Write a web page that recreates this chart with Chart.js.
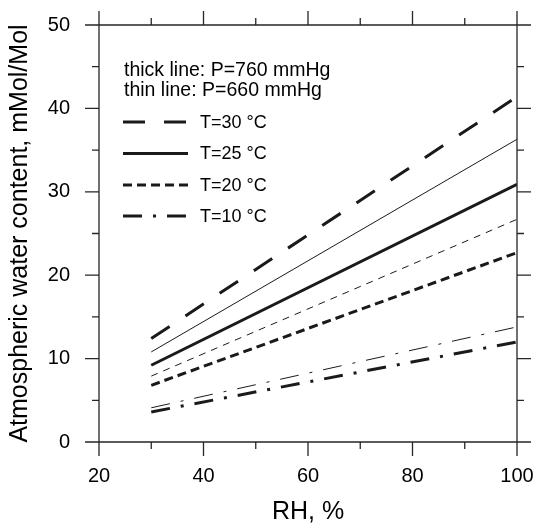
<!DOCTYPE html>
<html>
<head>
<meta charset="utf-8">
<script src="https://cdn.jsdelivr.net/npm/chart.js@4.4.1/dist/chart.umd.min.js"></script>
<style>
  html, body { margin: 0; padding: 0; background: #fff; }
  #wrap { width: 539px; height: 527px; }
</style>
</head>
<body>
<div id="wrap"><canvas id="chart" width="539" height="527"></canvas></div>
<script>
(function () {
  // RH (%) at the two ends of every line
  var RH = [30, 100];

  // thick lines, P=760 mmHg
  var THICK_30 = [12.4, 41.4];
  var THICK_25 = [9.2, 30.9];
  var THICK_20 = [6.8, 22.7];
  var THICK_10 = [3.6, 12.0];

  // thin lines, P=660 mmHg
  var THIN_25 = [10.8, 36.3];
  var THIN_20 = [7.9, 26.7];
  var THIN_10 = [4.1, 13.8];

  var X_MAJOR = [20, 40, 60, 80, 100];
  var X_MINOR = [30, 50, 70, 90];
  var Y_MAJOR = [0, 10, 20, 30, 40, 50];
  var Y_MINOR = [5, 15, 25, 35, 45];

  var HEADER_LINES = ['thick line: P=760 mmHg', 'thin line: P=660 mmHg'];
  var TEMP_LABELS = ['T=30 \u00B0C', 'T=25 \u00B0C', 'T=20 \u00B0C', 'T=10 \u00B0C'];

  var INK = '#1a1a1a';
  var FRAME = '#262626';
  var FONT = "'Liberation Sans', Arial, Helvetica, sans-serif";

  var DASH_30 = [22, 19];
  var DASH_25 = [];
  var DASH_20 = [9, 5];
  var DASH_20_THIN = [7, 6];
  var DASH_10 = [19, 11, 3, 11];

  // wanted plot box inside the 539x527 canvas
  var BOX = { left: 99, right: 517, top: 25, bottom: 442 };

  Chart.defaults.font.family = FONT;
  Chart.defaults.color = '#000';

  function points(values) {
    return RH.map(function (x, i) {
      return { x: x, y: values[i] };
    });
  }

  function line(label, values, width, dash) {
    return {
      label: label,
      data: points(values),
      borderColor: INK,
      borderWidth: width,
      borderDash: dash,
      borderCapStyle: 'butt',
      pointRadius: 0,
      pointHoverRadius: 0,
      fill: false,
      tension: 0
    };
  }

  // thick datasets first so the legend can pick them by index
  var datasets = [
    line(TEMP_LABELS[0], THICK_30, 3, DASH_30),
    line(TEMP_LABELS[1], THICK_25, 3, DASH_25),
    line(TEMP_LABELS[2], THICK_20, 3, DASH_20),
    line(TEMP_LABELS[3], THICK_10, 3, DASH_10),
    line('thin 25', THIN_25, 1, DASH_25),
    line('thin 20', THIN_20, 1, DASH_20_THIN),
    line('thin 10', THIN_10, 1, DASH_10)
  ];

  // the scales would otherwise push the plot box in to make room for edge labels
  function noEdgePadding(scale) {
    scale.paddingLeft = 0;
    scale.paddingRight = 0;
    scale.paddingTop = 0;
    scale.paddingBottom = 0;
  }

  // box frame with outward ticks on all four sides
  var framePlugin = {
    id: 'frame',
    afterDraw: function (chart) {
      var ctx = chart.ctx;
      var a = chart.chartArea;
      var xs = chart.scales.x;
      var ys = chart.scales.y;
      var major = 14;
      var minor = 7;

      ctx.save();
      ctx.strokeStyle = FRAME;
      ctx.lineWidth = 1.3;
      ctx.setLineDash([]);
      ctx.beginPath();
      ctx.moveTo(a.left - major, a.top); ctx.lineTo(a.right + major, a.top);
      ctx.moveTo(a.left - major, a.bottom); ctx.lineTo(a.right + major, a.bottom);
      ctx.moveTo(a.left, a.top - major); ctx.lineTo(a.left, a.bottom + major);
      ctx.moveTo(a.right, a.top - major); ctx.lineTo(a.right, a.bottom + major);

      function xTick(v, len) {
        var px = xs.getPixelForValue(v);
        ctx.moveTo(px, a.bottom); ctx.lineTo(px, a.bottom + len);
        ctx.moveTo(px, a.top); ctx.lineTo(px, a.top - len);
      }
      function yTick(v, len) {
        var py = ys.getPixelForValue(v);
        ctx.moveTo(a.left, py); ctx.lineTo(a.left - len, py);
        ctx.moveTo(a.right, py); ctx.lineTo(a.right + len, py);
      }
      X_MAJOR.forEach(function (v) { xTick(v, major); });
      X_MINOR.forEach(function (v) { xTick(v, minor); });
      Y_MAJOR.forEach(function (v) { yTick(v, major); });
      Y_MINOR.forEach(function (v) { yTick(v, minor); });
      ctx.stroke();
      ctx.restore();
    }
  };

  // text legend in the upper left corner
  var legendPlugin = {
    id: 'textLegend',
    afterDraw: function (chart) {
      var ctx = chart.ctx;
      ctx.save();
      ctx.fillStyle = '#000';
      ctx.font = '19.5px ' + FONT;
      ctx.textAlign = 'left';
      ctx.textBaseline = 'alphabetic';
      ctx.fillText(HEADER_LINES[0], 124, 76);
      ctx.fillText(HEADER_LINES[1], 124, 96);

      var rowY = [122, 153.5, 185, 216];
      ctx.font = '18px ' + FONT;
      ctx.textBaseline = 'middle';
      rowY.forEach(function (y, i) {
        var ds = chart.data.datasets[i];
        ctx.strokeStyle = ds.borderColor;
        ctx.lineWidth = ds.borderWidth;
        ctx.lineCap = 'butt';
        ctx.setLineDash(ds.borderDash);
        ctx.beginPath();
        ctx.moveTo(123, y);
        ctx.lineTo(188, y);
        ctx.stroke();
        ctx.fillText(ds.label, 200, y + 1);
      });
      ctx.restore();
    }
  };

  new Chart(document.getElementById('chart'), {
    type: 'line',
    data: { datasets: datasets },
    options: {
      responsive: false,
      animation: false,
      events: [],
      layout: {
        autoPadding: false,
        padding: { top: BOX.top, right: 539 - BOX.right, left: 0, bottom: 0 }
      },
      plugins: {
        legend: { display: false },
        tooltip: { enabled: false }
      },
      scales: {
        x: {
          type: 'linear',
          min: 20,
          max: 100,
          afterBuildTicks: function (scale) {
            scale.ticks = X_MAJOR.map(function (v) { return { value: v }; });
          },
          afterFit: function (scale) {
            scale.height = 527 - BOX.bottom;
            noEdgePadding(scale);
          },
          grid: { display: false, drawTicks: false },
          border: { display: false },
          ticks: {
            padding: 22,
            autoSkip: false,
            maxRotation: 0,
            color: '#000',
            font: { size: 20 }
          },
          title: {
            display: true,
            text: 'RH, %',
            color: '#000',
            font: { size: 25 },
            padding: { top: 0, bottom: 0 }
          }
        },
        y: {
          type: 'linear',
          min: 0,
          max: 50,
          afterBuildTicks: function (scale) {
            scale.ticks = Y_MAJOR.map(function (v) { return { value: v }; });
          },
          afterFit: function (scale) {
            scale.width = BOX.left;
            noEdgePadding(scale);
          },
          grid: { display: false, drawTicks: false },
          border: { display: false },
          ticks: {
            padding: 29,
            autoSkip: false,
            color: '#000',
            font: { size: 20 }
          },
          title: {
            display: true,
            text: 'Atmospheric water content, mMol/Mol',
            color: '#000',
            font: { size: 25 },
            padding: { top: 5, bottom: 0 }
          }
        }
      }
    },
    plugins: [framePlugin, legendPlugin]
  });
})();
</script>
</body>
</html>
